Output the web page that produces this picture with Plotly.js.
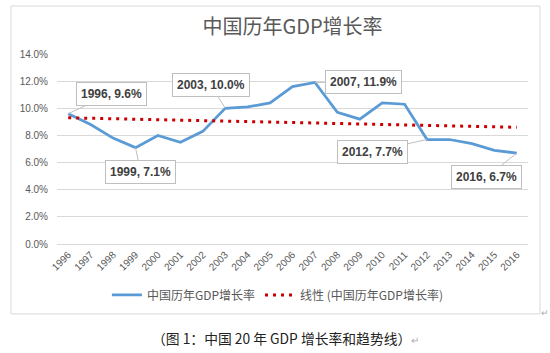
<!DOCTYPE html>
<html>
<head>
<meta charset="utf-8">
<script src="https://cdn.plot.ly/plotly-3.0.1.min.js"></script>
<style>html,body{margin:0;padding:0;background:#fff;}#chart{width:550px;height:353px;}</style>
</head>
<body>
<div id="chart"></div>
<script>
// Data
const years = ['1996','1997','1998','1999','2000','2001','2002','2003','2004','2005','2006','2007','2008','2009','2010','2011','2012','2013','2014','2015','2016'];
const growth = [9.6, 8.8, 7.8, 7.1, 8.0, 7.5, 8.3, 10.0, 10.1, 10.4, 11.6, 11.9, 9.7, 9.2, 10.4, 10.3, 7.7, 7.7, 7.4, 6.9, 6.7];
const trendYears = ['1996', '2016'];
const trendValues = [9.3, 8.6];
const labelYears = ['1996', '1999', '2003', '2007', '2012', '2016'];
const labelValues = [9.6, 7.1, 10.0, 11.9, 7.7, 6.7];
const labelOffsets = [[43, -20], [5, 24], [-14, -23], [49, -1], [-55, 12], [-30, 24]];
const yTicks = [0, 2, 4, 6, 8, 10, 12, 14];

const seriesName = '中国历年GDP增长率';
const trendName = '线性 (中国历年GDP增长率)';
const titleText = '中国历年GDP增长率';
const captionText = '（图 1：中国 20 年 GDP 增长率和趋势线）';

const cjk = '"Noto Sans CJK SC", "Liberation Sans", sans-serif';
const latin = '"Liberation Sans", "Noto Sans CJK SC", sans-serif';

const traces = [
  {
    x: years, y: growth, type: 'scatter', mode: 'lines', name: seriesName,
    line: {color: '#5B9BD5', width: 2.75}
  },
  {
    x: trendYears, y: trendValues, type: 'scatter', mode: 'lines', name: trendName,
    line: {color: '#CC0000', width: 3, dash: '3px,5px'}
  }
];

const annotations = labelYears.map((yr, i) => ({
  x: years.indexOf(yr), y: labelValues[i], xref: 'x', yref: 'y',
  text: '<b>' + yr + ', ' + labelValues[i].toFixed(1) + '%</b>',
  showarrow: true, arrowhead: 0, arrowwidth: 1, arrowcolor: '#BFBFBF',
  ax: labelOffsets[i][0], ay: labelOffsets[i][1],
  bgcolor: '#FFFFFF', bordercolor: '#BFBFBF', borderwidth: 1, borderpad: 4,
  font: {family: latin, size: 12, color: '#404040'}
}));

annotations.push({
  xref: 'paper', yref: 'paper', x: 0.486, y: -0.495, xanchor: 'center', yanchor: 'middle',
  showarrow: false,
  text: captionText + '<span style="color:#AAAAAA;font-size:10px">↵</span>',
  font: {family: cjk, size: 13.8, color: '#222222'}
});
annotations.push({
  xref: 'paper', yref: 'paper', x: 1.036, y: -0.363, xanchor: 'center', yanchor: 'middle',
  showarrow: false, text: '↵', font: {family: cjk, size: 9, color: '#AAAAAA'}
});

const layout = {
  width: 550, height: 353,
  margin: {l: 57, r: 22, t: 54, b: 109},
  paper_bgcolor: '#FFFFFF', plot_bgcolor: '#FFFFFF',
  title: {
    text: titleText, x: 0.5, xref: 'paper', xanchor: 'center',
    y: 1 - 26.5 / 353, yref: 'container', yanchor: 'middle',
    font: {family: cjk, size: 20, color: '#595959'}
  },
  showlegend: true,
  legend: {
    orientation: 'h', x: 0.469, xanchor: 'center', y: -0.268, yanchor: 'middle',
    font: {family: cjk, size: 12, color: '#595959'}, bgcolor: 'rgba(0,0,0,0)',
    itemwidth: 30
  },
  xaxis: {
    type: 'category', range: [-0.5, 20.5],
    tickangle: -45, ticks: '', showgrid: false,
    showline: true, linecolor: '#D9D9D9', linewidth: 1,
    tickfont: {family: latin, size: 10, color: '#595959'},
    fixedrange: true
  },
  yaxis: {
    range: [0, 14], tickvals: yTicks, ticktext: yTicks.map(v => v.toFixed(1) + '%'),
    showgrid: true, gridcolor: '#D9D9D9', gridwidth: 1, zeroline: false,
    showline: false, ticks: '', ticklabelstandoff: 8,
    tickfont: {family: latin, size: 10, color: '#595959'},
    fixedrange: true
  },
  shapes: [{
    type: 'rect', xref: 'paper', yref: 'paper',
    x0: -0.0977, x1: 1.0255, y0: -0.368, y1: 1.2526,
    line: {color: '#D9D9D9', width: 1}, fillcolor: 'rgba(0,0,0,0)', layer: 'below'
  }],
  annotations: annotations
};

Plotly.newPlot('chart', traces, layout, {staticPlot: true, displayModeBar: false});
</script>
</body>
</html>
